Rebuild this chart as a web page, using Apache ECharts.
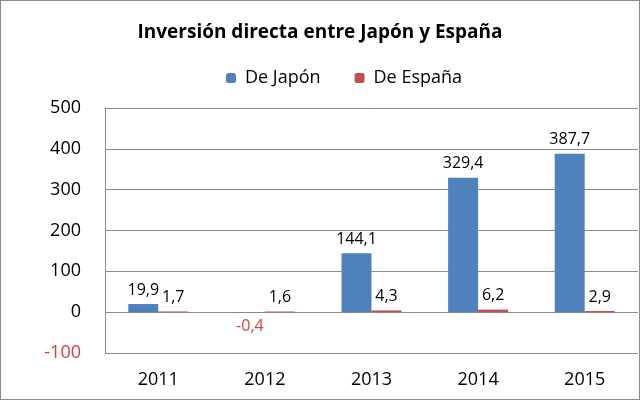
<!DOCTYPE html>
<html>
<head>
<meta charset="utf-8">
<script src="https://cdn.jsdelivr.net/npm/echarts@6/dist/echarts.min.js"></script>
<style>
  html, body { margin: 0; padding: 0; background: #fff; }
  #chart { width: 640px; height: 400px; box-sizing: border-box; border: 1px solid #8c8c8c; }
</style>
</head>
<body>
<div id="chart"></div>
<script>
const years = ['2011', '2012', '2013', '2014', '2015'];
const deJapon = [19.9, -0.4, 144.1, 329.4, 387.7];
const deEspana = [1.7, 1.6, 4.3, 6.2, 2.9];

const fmt = v => String(v).replace('.', ',');
const font = '"Open Sans", "Noto Sans", sans-serif';

// negative values get the label under the bar, in red (like the Excel source)
const toData = arr => arr.map(v => (v < 0
  ? { value: v, label: { position: 'bottom', color: '#e03c3c' } }
  : v));

const chart = echarts.init(document.getElementById('chart'));
chart.setOption({
  animation: false,
  textStyle: { fontFamily: font },
  title: {
    text: 'Inversión directa entre Japón y España',
    left: 'center',
    top: 17,
    textStyle: { fontSize: 19, fontWeight: 'bold', color: '#000', fontFamily: font },
  },
  legend: {
    top: 63,
    left: 220,
    itemWidth: 10,
    itemHeight: 10,
    itemGap: 34,
    textStyle: { fontSize: 18, color: '#000', padding: [0, 0, 0, 4] },
    data: ['De Japón', 'De España'],
  },
  grid: { left: 104, right: 1, top: 107, bottom: 46, containLabel: false },
  xAxis: {
    type: 'category',
    data: years,
    axisTick: { show: false },
    axisLine: { show: false },
    axisLabel: { fontSize: 18, color: '#000', margin: 18 },
  },
  yAxis: {
    type: 'value',
    min: -100,
    max: 500,
    interval: 100,
    axisLine: { show: true, lineStyle: { color: '#8c8c8c' } },
    axisTick: { show: false },
    splitLine: { lineStyle: { color: '#8c8c8c' } },
    axisLabel: {
      fontSize: 18,
      margin: 24,
      color: v => (v < 0 ? '#e03c3c' : '#000'),
    },
  },
  series: [
    {
      name: 'De Japón',
      type: 'bar',
      data: toData(deJapon),
      barWidth: 30,
      barGap: '0%',
      itemStyle: { color: '#4f81bd' },
      label: {
        show: true,
        position: 'top',
        fontSize: 16,
        color: '#000',
        distance: 6,
        formatter: p => fmt(p.value),
      },
    },
    {
      name: 'De España',
      type: 'bar',
      data: toData(deEspana),
      barWidth: 30,
      barGap: '0%',
      itemStyle: { color: '#c0504d' },
      label: {
        show: true,
        position: 'top',
        fontSize: 16,
        color: '#000',
        distance: 6,
        formatter: p => fmt(p.value),
      },
    },
  ],
});
</script>
</body>
</html>
